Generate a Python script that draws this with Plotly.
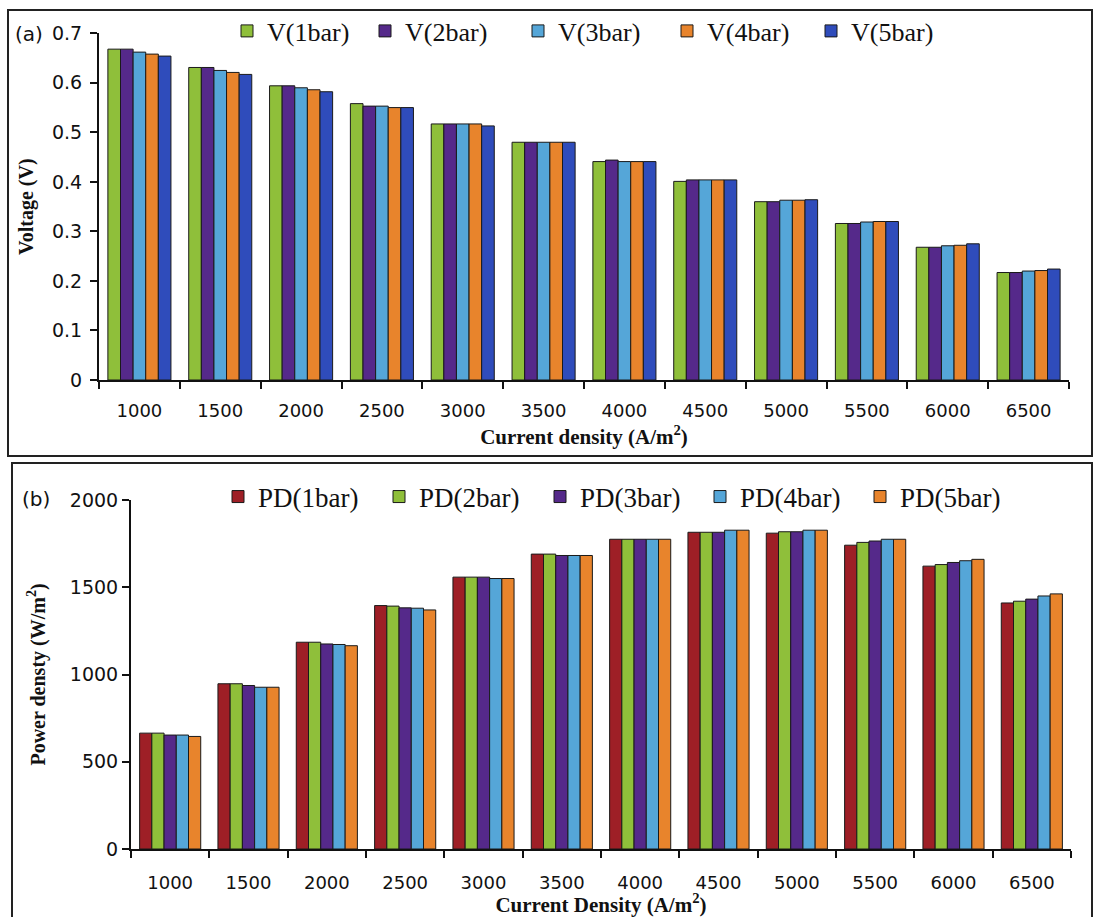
import plotly.graph_objects as go

W, H = 1094, 917

categories = ["1000", "1500", "2000", "2500", "3000", "3500",
              "4000", "4500", "5000", "5500", "6000", "6500"]

# Panel (a): Voltage (V)
v_1bar = [0.668, 0.631, 0.594, 0.558, 0.517, 0.480, 0.441, 0.401, 0.360, 0.316, 0.268, 0.217]
v_2bar = [0.668, 0.631, 0.594, 0.553, 0.517, 0.480, 0.444, 0.404, 0.360, 0.316, 0.268, 0.217]
v_3bar = [0.662, 0.625, 0.590, 0.553, 0.517, 0.480, 0.441, 0.404, 0.363, 0.319, 0.271, 0.220]
v_4bar = [0.658, 0.621, 0.586, 0.550, 0.517, 0.480, 0.441, 0.404, 0.363, 0.320, 0.272, 0.221]
v_5bar = [0.654, 0.617, 0.582, 0.550, 0.513, 0.480, 0.441, 0.404, 0.364, 0.320, 0.275, 0.224]

# Panel (b): Power density (W/m2)
pd_1bar = [664, 947, 1185, 1395, 1558, 1690, 1775, 1815, 1810, 1741, 1621, 1410]
pd_2bar = [664, 947, 1185, 1392, 1558, 1690, 1775, 1815, 1818, 1757, 1630, 1420]
pd_3bar = [653, 937, 1175, 1382, 1558, 1682, 1775, 1815, 1818, 1765, 1642, 1432]
pd_4bar = [653, 927, 1172, 1380, 1550, 1682, 1775, 1827, 1827, 1775, 1652, 1450]
pd_5bar = [645, 927, 1165, 1370, 1550, 1682, 1775, 1827, 1827, 1775, 1660, 1462]

v_names = ["V(1bar)", "V(2bar)", "V(3bar)", "V(4bar)", "V(5bar)"]
pd_names = ["PD(1bar)", "PD(2bar)", "PD(3bar)", "PD(4bar)", "PD(5bar)"]

GREEN = "#8fbf3a"
PURPLE = "#55298a"
LBLUE = "#55a6d8"
ORANGE = "#e8842c"
BLUE = "#2f4cbb"
DRED = "#9e1f26"

v_colors = [GREEN, PURPLE, LBLUE, ORANGE, BLUE]
pd_colors = [DRED, GREEN, PURPLE, LBLUE, ORANGE]

# legend marker centres (px) for each series
v_leg_x = [247, 385, 538, 687, 831]
pd_leg_x = [238, 399, 560, 720, 880]
V_LEG_Y = 31
PD_LEG_Y = 497

fig = go.Figure()

def px(x):
    return x / W

def py(y):
    return 1 - y / H

legend_layouts = {}
k = 1
for name, vals, col, lx in zip(v_names, [v_1bar, v_2bar, v_3bar, v_4bar, v_5bar], v_colors, v_leg_x):
    lname = "legend" if k == 1 else f"legend{k}"
    fig.add_trace(go.Bar(x=categories, y=vals, name=name,
                         marker=dict(color=col, line=dict(color="#1a1a1a", width=1)),
                         xaxis="x", yaxis="y", legend=lname))
    legend_layouts[lname] = dict(x=px(lx - 20), y=py(V_LEG_Y), xanchor="left", yanchor="middle",
                                 font=dict(family="Liberation Serif", size=26, color="#111"),
                                 bgcolor="rgba(0,0,0,0)", borderwidth=0, itemwidth=30)
    k += 1

for name, vals, col, lx in zip(pd_names, [pd_1bar, pd_2bar, pd_3bar, pd_4bar, pd_5bar], pd_colors, pd_leg_x):
    lname = f"legend{k}"
    fig.add_trace(go.Bar(x=categories, y=vals, name=name,
                         marker=dict(color=col, line=dict(color="#1a1a1a", width=1)),
                         xaxis="x2", yaxis="y2", legend=lname))
    legend_layouts[lname] = dict(x=px(lx - 20), y=py(PD_LEG_Y), xanchor="left", yanchor="middle",
                                 font=dict(family="Liberation Serif", size=27, color="#111"),
                                 bgcolor="rgba(0,0,0,0)", borderwidth=0, itemwidth=30)
    k += 1

xtickfont = dict(family="DejaVu Sans", size=18, color="#111")
ytickfont = dict(family="DejaVu Sans", size=19, color="#111")
xtitle_font = dict(family="Liberation Serif", size=21, color="#111", weight="bold")
ytitle_font = dict(family="Liberation Serif", size=20, color="#111", weight="bold")

axis_common = dict(showline=True, linecolor="#111", linewidth=2, ticks="outside", ticklen=7,
                   tickwidth=2, tickcolor="#111", showgrid=False, zeroline=False)

fig.update_layout(
    width=W, height=H,
    margin=dict(l=0, r=0, t=0, b=0, autoexpand=False),
    paper_bgcolor="white", plot_bgcolor="white",
    barmode="group", bargap=0.22, bargroupgap=0,
    xaxis=dict(domain=[px(99), px(1069)], anchor="y", type="category", tickson="boundaries",
               tickfont=xtickfont, ticklabelstandoff=13,
               title=dict(text="Current density (A/m<sup>2</sup>)", font=xtitle_font, standoff=10),
               **axis_common),
    yaxis=dict(domain=[py(380), py(33.3)], anchor="x", range=[0, 0.7], dtick=0.1,
               tickfont=ytickfont, ticklabelstandoff=4,
               title=dict(text="Voltage (V)", font=ytitle_font, standoff=13),
               **axis_common),
    xaxis2=dict(domain=[px(131), px(1071)], anchor="y2", type="category", tickson="boundaries",
                tickfont=xtickfont, ticklabelstandoff=16,
                title=dict(text="Current Density (A/m<sup>2</sup>)", font=xtitle_font, standoff=6),
                **axis_common),
    yaxis2=dict(domain=[py(849), py(500)], anchor="x2", range=[0, 2000], dtick=500,
                tickfont=ytickfont,
                title=dict(text="Power densty (W/m<sup>2</sup>)", font=ytitle_font, standoff=19),
                **axis_common),
    showlegend=True,
    **legend_layouts,
)

# Panel frames
fig.add_shape(type="rect", xref="paper", yref="paper", x0=px(8), x1=px(1092), y0=py(456), y1=py(10),
              line=dict(color="#222", width=2), fillcolor="rgba(0,0,0,0)", layer="below")
fig.add_shape(type="rect", xref="paper", yref="paper", x0=px(12), x1=px(1092), y0=py(930), y1=py(463),
              line=dict(color="#222", width=2), fillcolor="rgba(0,0,0,0)", layer="below")

fig.add_annotation(text="(a)", xref="paper", yref="paper", x=px(13), y=py(34), xanchor="left", yanchor="middle",
                   showarrow=False, font=dict(family="DejaVu Sans", size=20, color="#111"))
fig.add_annotation(text="(b)", xref="paper", yref="paper", x=px(20), y=py(499), xanchor="left", yanchor="middle",
                   showarrow=False, font=dict(family="DejaVu Sans", size=20, color="#111"))

fig.write_html("out.html")
